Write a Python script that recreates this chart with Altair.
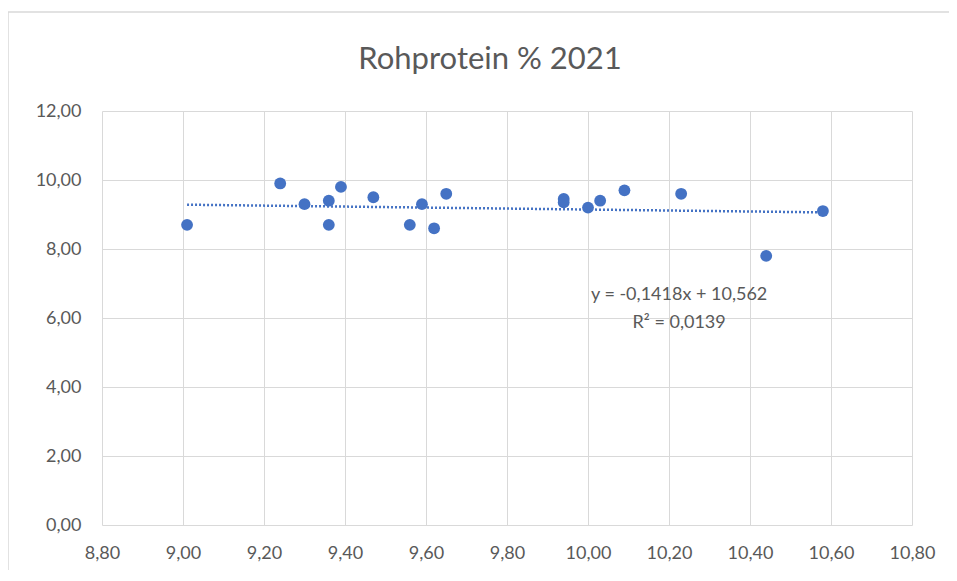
import altair as alt
import pandas as pd

# Data
x_vals = [9.01, 9.24, 9.30, 9.36, 9.36, 9.39, 9.47, 9.56, 9.59, 9.62, 9.65,
          9.94, 9.94, 10.00, 10.03, 10.09, 10.23, 10.44, 10.58]
y_vals = [8.7, 9.9, 9.3, 9.4, 8.7, 9.8, 9.5, 8.7, 9.3, 8.6, 9.6,
          9.45, 9.35, 9.2, 9.4, 9.7, 9.6, 7.8, 9.1]

# Trendline as given in the chart
slope = [-0.1418]
intercept = [10.562]
eq_lines = ["y = -0,1418x + 10,562", "R² = 0,0139"]
eq_x = [10.225, 10.225]
eq_y = [6.67, 5.86]
title_text = ["Rohprotein % 2021"]

x_ticks = [8.8, 9.0, 9.2, 9.4, 9.6, 9.8, 10.0, 10.2, 10.4, 10.6, 10.8]
y_ticks = [0, 2, 4, 6, 8, 10, 12]

points = pd.DataFrame({"x": x_vals, "y": y_vals})
trend = pd.DataFrame({"x": [min(x_vals), max(x_vals)]})
trend["y"] = intercept[0] + slope[0] * trend["x"]
eq = pd.DataFrame({"t": eq_lines, "x": eq_x, "y": eq_y})

FONT = "Lato"
GRAY = "#595959"
BLUE = "#4472C4"
fmt = "replace(format(datum.value, '.2f'), '.', ',')"

xs = alt.Scale(domain=[8.8, 10.8], nice=False, zero=False)
ys = alt.Scale(domain=[0, 12], nice=False)

xa = alt.Axis(values=x_ticks, labelExpr=fmt, title=None, grid=True,
              gridColor="#d9d9d9", domain=False, ticks=False, labelFlush=False,
              labelOverlap=False,
              labelPadding=19, labelFontSize=18, labelColor=GRAY, labelFont=FONT)
ya = alt.Axis(values=y_ticks, labelExpr=fmt, title=None, grid=True,
              gridColor="#d9d9d9", domain=False, ticks=False, labelFlush=False,
              labelOverlap=False,
              labelPadding=21, labelFontSize=18, labelColor=GRAY, labelFont=FONT)

frame = alt.Chart(pd.DataFrame({"a": [0]})).mark_rect(
    filled=False, stroke="#d9d9d9", strokeWidth=1.5, clip=False
).encode(x=alt.value(-94), x2=alt.value(851), y=alt.value(-99), y2=alt.value(470))

title = alt.Chart(pd.DataFrame({"t": title_text})).mark_text(
    font=FONT, fontSize=31, color=GRAY, align="center", baseline="middle"
).encode(x=alt.value(388), y=alt.value(-51), text="t:N")

pts = alt.Chart(points).mark_circle(size=140, color=BLUE, opacity=1).encode(
    x=alt.X("x:Q", scale=xs, axis=xa),
    y=alt.Y("y:Q", scale=ys, axis=ya),
)

line = alt.Chart(trend).mark_line(color=BLUE, strokeWidth=2.5, strokeDash=[2, 2]).encode(
    x=alt.X("x:Q", scale=xs),
    y=alt.Y("y:Q", scale=ys),
)

txt = alt.Chart(eq).mark_text(font=FONT, fontSize=18, color=GRAY, align="center", baseline="middle").encode(
    x=alt.X("x:Q", scale=xs),
    y=alt.Y("y:Q", scale=ys),
    text="t:N",
)

chart = alt.layer(frame, title, line, pts, txt).properties(
    width=810, height=414,
    autosize=alt.AutoSizeParams(type="none"),
    padding={"left": 94, "top": 103, "right": 37, "bottom": 45},
).configure_view(stroke=None)

chart.save("out.html", embed_options={"renderer": "svg", "actions": False})
